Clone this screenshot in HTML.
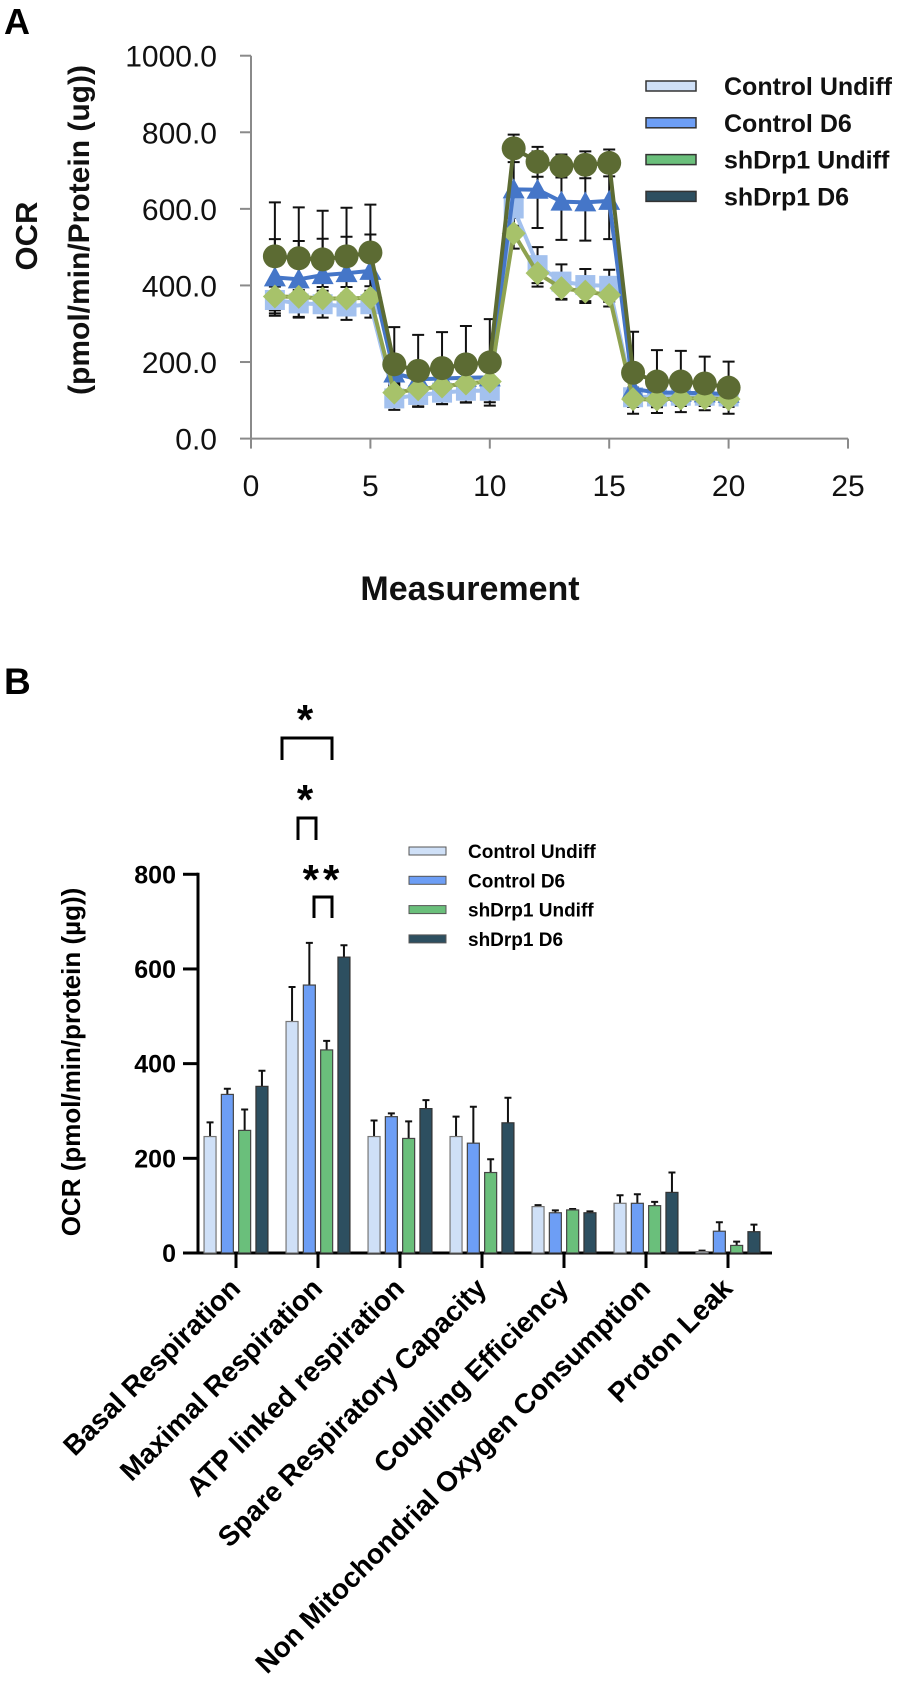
<!DOCTYPE html>
<html><head><meta charset="utf-8"><style>
html,body{margin:0;padding:0;background:#fff;}
svg{display:block;font-family:"Liberation Sans",Arial,sans-serif;}
</style></head>
<body>
<svg id="fig" width="900" height="1693" viewBox="0 0 900 1693">
  <text x="4" y="34" font-size="36" font-weight="bold">A</text>
  <g id="chartA"></g>
  <text x="4" y="694" font-size="37" font-weight="bold">B</text>
  <g id="chartB"></g>
</svg>
<script>
// ---------- Chart A data ----------
const aSeriesNames = ["Control Undiff", "Control D6", "shDrp1 Undiff", "shDrp1 D6"];
const aMeasurements = [1,2,3,4,5,6,7,8,9,10,11,12,13,14,15,16,17,18,19,20];
const aControlUndiff = [362,353,351,345,351, 105,114,120,125,125, 601,453,410,401,399, 108,110,112,112,110];
const aControlD6 = [421,416,427,432,438, 170,155,157,159,160, 651,650,619,617,621, 130,120,120,118,117];
const aShUndiff = [371,370,366,366,368, 120,129,136,144,149, 536,432,393,384,375, 103,102,105,105,103];
const aShD6 = [476,471,468,476,486, 194,177,184,194,199, 758,723,712,715,720, 172,149,149,144,133];
const aErrControlUndiff = [35,35,35,35,35, 30,30,30,30,30, 45,47,45,42,42, 25,25,25,25,25];
const aErrControlD6 = [100,100,95,95,95, 30,30,30,30,30, 100,100,100,100,100, 25,25,25,25,25];
const aErrShUndiff = [30,30,30,30,30, 25,25,25,25,25, 40,35,30,30,30, 20,20,20,20,20];
const aErrShD6 = [141,133,127,127,125, 97,94,94,100,113, 36,39,30,35,35, 107,82,80,70,68];
const aYTicks = [0,200,400,600,800,1000];
const aYTickLabels = ["0.0","200.0","400.0","600.0","800.0","1000.0"];
const aXTicks = [0,5,10,15,20,25];

// ---------- Chart B data ----------
const bCategories = ["Basal Respiration","Maximal Respiration","ATP linked respiration","Spare Respiratory Capacity","Coupling Efficiency","Non Mitochondrial Oxygen Consumption","Proton Leak"];
const bSeriesNames = ["Control Undiff","Control D6","shDrp1 Undiff","shDrp1 D6"];
const bControlUndiff = [246,489,246,246,98,105,3];
const bControlD6 = [335,566,288,232,85,105,46];
const bShUndiff = [259,429,242,170,91,100,16];
const bShD6 = [352,625,305,275,85,128,45];
const bErrControlUndiff = [30,73,34,42,3,17,2];
const bErrControlD6 = [12,89,7,77,5,19,19];
const bErrShUndiff = [44,19,36,28,2,8,8];
const bErrShD6 = [33,25,18,53,3,42,15];
const bYTicks = [0,200,400,600,800];

const NS = "http://www.w3.org/2000/svg";
function mk(parent, tag, attrs, txt){
  const e = document.createElementNS(NS, tag);
  for (const k in attrs) e.setAttribute(k, attrs[k]);
  if (txt !== undefined) e.textContent = txt;
  parent.appendChild(e);
  return e;
}

// ===== Chart A =====
(function(){
  const g = document.getElementById('chartA');
  const x = v => 251 + v * 23.88;
  const y = v => 438.6 - v * 0.3829;
  const axisCol = "#8a8a8a";
  let e = mk(g,'line',{x1:251,y1:y(1000),x2:251,y2:y(0),stroke:axisCol,'stroke-width':2});
   
  e = mk(g,'line',{x1:251,y1:y(0),x2:x(25),y2:y(0),stroke:axisCol,'stroke-width':2});
   
  aYTicks.forEach((t,i)=>{
    const tk = mk(g,'line',{x1:240,y1:y(t),x2:251,y2:y(t),stroke:axisCol,'stroke-width':2});
     
    const lb = mk(g,'text',{x:217,y:y(t)+11,'font-size':30,'text-anchor':'end',fill:'#111'},aYTickLabels[i]);
     
  });
  aXTicks.forEach(t=>{
    const tk = mk(g,'line',{x1:x(t),y1:y(0),x2:x(t),y2:y(0)+10,stroke:axisCol,'stroke-width':2});
     
    const lb = mk(g,'text',{x:x(t),y:496,'font-size':30,'text-anchor':'middle',fill:'#111'},String(t));
     
  });
  let t = mk(g,'text',{x:470,y:600,'font-size':34,'font-weight':'bold','text-anchor':'middle',fill:'#111'},'Measurement');
   
  t = mk(g,'text',{transform:'translate(37,236) rotate(-90)','font-size':31,'font-weight':'bold','text-anchor':'middle',fill:'#111'},'OCR');
   
  t = mk(g,'text',{transform:'translate(89,230) rotate(-90)','font-size':30,'font-weight':'bold','text-anchor':'middle',fill:'#111'},'(pmol/min/Protein (ug))');
   

  const series = [
    {vals:aControlUndiff, err:aErrControlUndiff, col:'#a3c1ee', line:'#a3c1ee', shape:'square', name:'control-undiff'},
    {vals:aControlD6, err:aErrControlD6, col:'#4576c8', line:'#4576c8', shape:'triangle', name:'control-d6'},
    {vals:aShUndiff, err:aErrShUndiff, col:'#a7c26a', line:'#8ea24f', shape:'diamond', name:'shdrp1-undiff'},
    {vals:aShD6, err:aErrShD6, col:'#5c6b33', line:'#5c6b33', shape:'circle', name:'shdrp1-d6'}
  ];
  series.forEach(s=>{
    s.vals.forEach((v,i)=>{
      const cx = x(aMeasurements[i]);
      const hi = y(v + s.err[i]), lo = y(v - s.err[i]);
      const eb = mk(g,'path',{d:`M${cx},${lo}V${hi}M${cx-6},${hi}H${cx+6}M${cx-6},${lo}H${cx+6}`,stroke:'#111','stroke-width':2,fill:'none'});
       
    });
  });
  series.forEach(s=>{
    const pts = s.vals.map((v,i)=>x(aMeasurements[i])+','+y(v)).join(' ');
    const pl = mk(g,'polyline',{points:pts,fill:'none',stroke:s.line,'stroke-width':4,'stroke-linejoin':'round'});
     
    s.vals.forEach((v,i)=>{
      const cx = x(aMeasurements[i]), cy = y(v);
      let m;
      if (s.shape==='square') m = mk(g,'rect',{x:cx-10,y:cy-10,width:20,height:20,fill:s.col});
      else if (s.shape==='triangle') m = mk(g,'polygon',{points:`${cx},${cy-11} ${cx+11},${cy+9} ${cx-11},${cy+9}`,fill:s.col});
      else if (s.shape==='diamond') m = mk(g,'polygon',{points:`${cx},${cy-12} ${cx+12},${cy} ${cx},${cy+12} ${cx-12},${cy}`,fill:s.col});
      else m = mk(g,'circle',{cx:cx,cy:cy,r:12,fill:s.col});
       
    });
  });
  const legCols = ['#cfe0f7','#6d9ef5','#6abf7b','#2d4f60'];
  aSeriesNames.forEach((n,i)=>{
    const cy = 86 + i*36.8;
    const sw = mk(g,'rect',{x:646,y:cy-5,width:50,height:10,fill:legCols[i],stroke:'#333','stroke-width':1.5});
     
    const lt = mk(g,'text',{x:724,y:cy+9,'font-size':25,'font-weight':'bold',fill:'#111'},n);
     
  });
})();

// ===== Chart B =====
(function(){
  const g = document.getElementById('chartB');
  const y = v => 1253 - v * 0.4734;
  const cx = i => 236 + i * 82.0;
  let e = mk(g,'line',{x1:198,y1:y(800)-1.5,x2:198,y2:1254.5,stroke:'#000','stroke-width':3});
   
  e = mk(g,'line',{x1:183,y1:1253,x2:772,y2:1253,stroke:'#000','stroke-width':3});
   
  bYTicks.forEach(t=>{
    const tk = mk(g,'line',{x1:183,y1:y(t),x2:198,y2:y(t),stroke:'#000','stroke-width':3});
     
    const lb = mk(g,'text',{x:176,y:y(t)+9,'font-size':25,'font-weight':'bold','text-anchor':'end',fill:'#000'},String(t));
     
  });
  let t = mk(g,'text',{transform:'translate(80,1062) rotate(-90)','font-size':26,'font-weight':'bold','text-anchor':'middle',fill:'#000'},'OCR (pmol/min/protein (µg))');
   

  const series = [
    {vals:bControlUndiff, err:bErrControlUndiff, col:'#cfe0f7', stroke:'#777', name:'control-undiff'},
    {vals:bControlD6, err:bErrControlD6, col:'#6d9ef5', stroke:'#444', name:'control-d6'},
    {vals:bShUndiff, err:bErrShUndiff, col:'#6abf7b', stroke:'#444', name:'shdrp1-undiff'},
    {vals:bShD6, err:bErrShD6, col:'#2d4f60', stroke:'#333', name:'shdrp1-d6'}
  ];
  bCategories.forEach((c,ci)=>{
    const tk = mk(g,'line',{x1:cx(ci),y1:1253,x2:cx(ci),y2:1268,stroke:'#000','stroke-width':3});
     
    const lb = mk(g,'text',{transform:`translate(${cx(ci)+6},1290) rotate(-45)`,'font-size':28,'font-weight':'bold','text-anchor':'end',fill:'#000'},c);
     
    series.forEach((s,si)=>{
      const bx = cx(ci) + (si-1.5)*17.3;
      const v = s.vals[ci], top = y(v), et = y(v + s.err[ci]);
      const eb = mk(g,'path',{d:`M${bx},${top}V${et}M${bx-3.5},${et}H${bx+3.5}`,stroke:'#111','stroke-width':2,fill:'none'});
       
      const r = mk(g,'rect',{x:bx-6,y:top,width:12,height:1253-top,fill:s.col,stroke:s.stroke,'stroke-width':1.2});
       
    });
  });
  const br = [[282,332,738,760],[298,316,818,840],[314,332,897,918]];
  br.forEach(b=>{
    const p = mk(g,'path',{d:`M${b[0]},${b[3]}V${b[2]}H${b[1]}V${b[3]}`,fill:'none',stroke:'#000','stroke-width':3});
     
  });
  const stars = [[307,710,'*'],[307,790,'*'],[323,870,'**']];
  stars.forEach(s=>{
    const st = mk(g,'text',{x:s[0],y:s[1]+24,'font-size':42,'font-weight':'bold','text-anchor':'middle',fill:'#000','letter-spacing':'4'},s[2]);
     
  });
  const legCols = ['#cfe0f7','#6d9ef5','#6abf7b','#2d4f60'];
  bSeriesNames.forEach((n,i)=>{
    const cy = 851 + i*29.3;
    const sw = mk(g,'rect',{x:409,y:cy-4,width:37,height:8,fill:legCols[i],stroke:'#555','stroke-width':1});
     
    const lt = mk(g,'text',{x:468,y:cy+7,'font-size':19,'font-weight':'bold',fill:'#000'},n);
     
  });
})();
</script>
</body></html>
